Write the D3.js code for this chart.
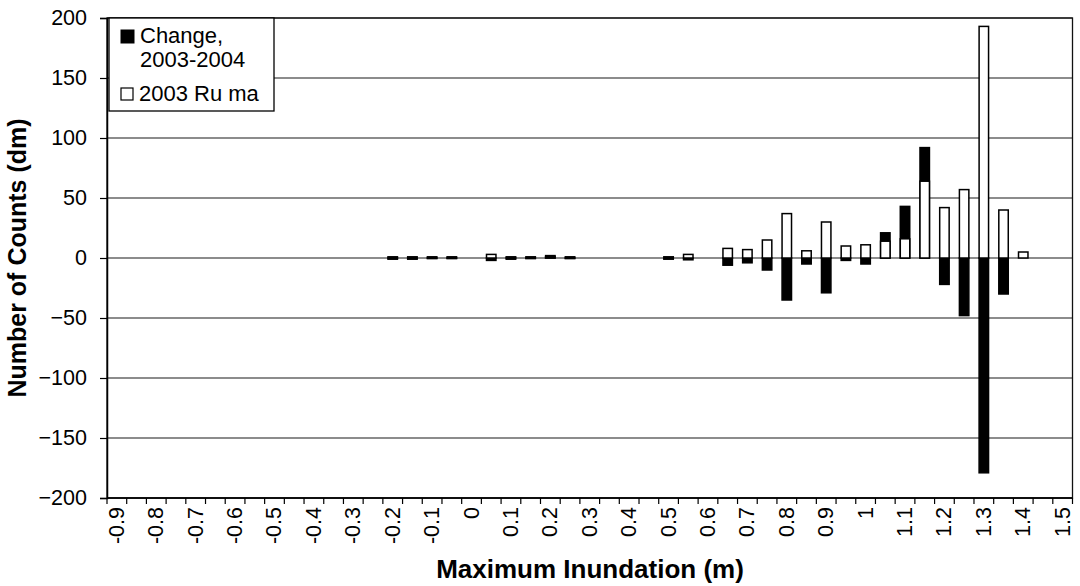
<!DOCTYPE html>
<html><head><meta charset="utf-8">
<script src="https://cdn.jsdelivr.net/npm/d3@7"></script>
<style>
body{margin:0;background:#fff;}
svg text{font-family:"Liberation Sans",Arial,sans-serif;fill:#000;}
</style></head>
<body><svg id="c" width="1080" height="586"></svg>
<script>
const categories = [-0.9,-0.85,-0.8,-0.75,-0.7,-0.65,-0.6,-0.55,-0.5,-0.45,-0.4,-0.35,-0.3,-0.25,-0.2,-0.15,-0.1,-0.05,0,0.05,0.1,0.15,0.2,0.25,0.3,0.35,0.4,0.45,0.5,0.55,0.6,0.65,0.7,0.75,0.8,0.85,0.9,0.95,1.0,1.05,1.1,1.15,1.2,1.25,1.3,1.35,1.4,1.45,1.5];
const xTickLabels = ["-0.9","-0.8","-0.7","-0.6","-0.5","-0.4","-0.3","-0.2","-0.1","0","0.1","0.2","0.3","0.4","0.5","0.6","0.7","0.8","0.9","1","1.1","1.2","1.3","1.4","1.5"];
const yTicks = [-200,-150,-100,-50,0,50,100,150,200];
// Series 1: Change, 2003-2004 (black)
const change2003_2004 = [null,null,null,null,null,null,null,null,null,null,null,null,null,null,-1,-1,-0.5,-0.5,null,-2,-1,-0.5,2,-0.5,null,null,null,null,-1,-1.5,null,-6,-4,-10,-35,-5,-29,-2,-5,21,43,92,-22,-48,-179,-30,0,null,null];
// Series 2: 2003 Ru ma (white)
const ru2003 = [null,null,null,null,null,null,null,null,null,null,null,null,null,null,1,1,1,1,null,3,1,1,1,1,null,null,null,null,1,3,null,8,7,15,37,6,30,10,11,14,16,64,42,57,193,40,5,null,null];
const seriesNames = ["Change,\n2003-2004","2003 Ru ma"];

const svg = d3.select("#c");
const m = {l:107, r:1072.5, t:18, b:498};
const x = d3.scaleBand().domain(categories.map(String)).range([m.l, m.r]).paddingInner(0.52).paddingOuter(0.26);
const xb = d3.scaleBand().domain(categories.map(String)).range([m.l, m.r]);
const y = d3.scaleLinear().domain([-200,200]).range([m.b, m.t]);

// gridlines
svg.append("g").selectAll("line").data(yTicks).join("line")
  .attr("x1", m.l).attr("x2", m.r).attr("y1", d=>y(d)).attr("y2", d=>y(d))
  .attr("stroke","#1a1a1a").attr("stroke-width",1.2);
// plot border right/top
svg.append("rect").attr("x",m.l).attr("y",m.t).attr("width",m.r-m.l).attr("height",m.b-m.t)
  .attr("fill","none").attr("stroke","#111").attr("stroke-width",1.3);

// bars
function drawSeries(vals, fill){
  svg.append("g").selectAll("rect").data(categories.map((c,i)=>({c:String(c), v:vals[i]})).filter(d=>d.v!==null))
    .join("rect")
    .attr("x", d=>x(d.c)).attr("width", x.bandwidth())
    .attr("y", d=>y(Math.max(0,d.v))).attr("height", d=>Math.abs(y(d.v)-y(0)))
    .attr("fill", fill).attr("stroke","#000").attr("stroke-width",1.5);
}
drawSeries(change2003_2004, "#000");
drawSeries(ru2003, "#fff");

// y axis
const yAxis = svg.append("g").attr("transform",`translate(${m.l},0)`)
  .call(d3.axisLeft(y).tickValues(yTicks).tickSize(7).tickPadding(13).tickFormat(d3.format("d")));
yAxis.select(".domain").attr("stroke","#000").attr("stroke-width",1.5);
yAxis.selectAll(".tick line").attr("stroke","#000").attr("stroke-width",1.2);
yAxis.selectAll("text").style("font-size","21.5px").attr("fill","#000").attr("font-family",null);

// x axis: ticks at category boundaries
const xAxisG = svg.append("g").attr("transform",`translate(0,${m.b})`);
xAxisG.append("line").attr("x1",m.l).attr("x2",m.r).attr("stroke","#000").attr("stroke-width",1.5);
xAxisG.selectAll("line.tk").data(categories.concat([null])).join("line").attr("class","tk")
  .attr("x1",(d,i)=> i<categories.length ? xb(String(categories[i])) : m.r)
  .attr("x2",(d,i)=> i<categories.length ? xb(String(categories[i])) : m.r)
  .attr("y1",0).attr("y2",6).attr("stroke","#000").attr("stroke-width",1.2);
const labelled = categories.filter((c,i)=>i%2===0);
xAxisG.selectAll("text").data(labelled).join("text")
  .attr("transform",(d)=>`translate(${xb(String(d))+xb.bandwidth()/2+7},9) rotate(-90)`)
  .attr("text-anchor","end").style("font-size","21.5px")
  .text((d,i)=>xTickLabels[i]);

// axis titles
svg.append("text").attr("transform",`translate(26,258) rotate(-90)`).attr("text-anchor","middle")
  .style("font-size","25px").style("font-weight","bold").text("Number of Counts (dm)");
svg.append("text").attr("x",590).attr("y",578).attr("text-anchor","middle")
  .style("font-size","26px").style("font-weight","bold").text("Maximum Inundation (m)");

// legend
const lg = svg.append("g");
lg.append("rect").attr("x",109).attr("y",18).attr("width",165).attr("height",93)
  .attr("fill","#fff").attr("stroke","#000").attr("stroke-width",1.3);
lg.append("rect").attr("x",121).attr("y",30).attr("width",13).attr("height",13).attr("fill","#000").attr("stroke","#000");
lg.append("rect").attr("x",121).attr("y",88).attr("width",12).attr("height",12).attr("fill","#fff").attr("stroke","#000").attr("stroke-width",1.2);
const l1 = seriesNames[0].split("\n");
lg.append("text").attr("x",140).attr("y",43).style("font-size","22px").text(l1[0]);
lg.append("text").attr("x",140).attr("y",67).style("font-size","22px").text(l1[1]);
lg.append("text").attr("x",139).attr("y",101).style("font-size","22px").text(seriesNames[1]);
</script></body></html>
